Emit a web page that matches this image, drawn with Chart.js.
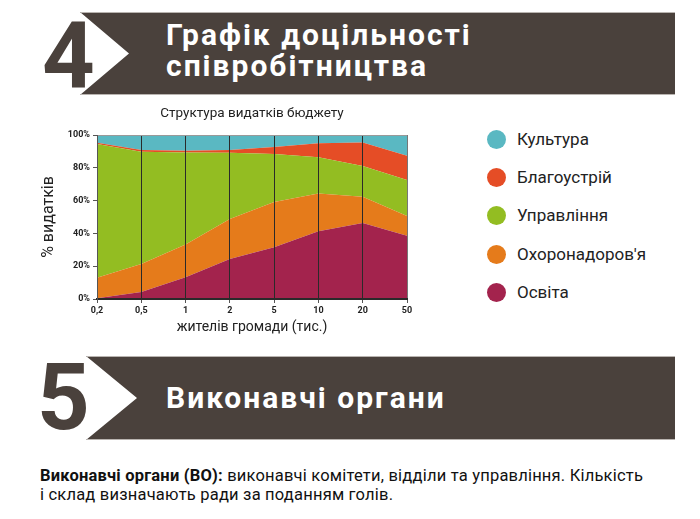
<!DOCTYPE html>
<html>
<head>
<meta charset="utf-8">
<script src="https://cdn.jsdelivr.net/npm/chart.js"></script>
<style>
  html, body { margin:0; padding:0; background:#fff; }
  body { width:700px; height:519px; position:relative; overflow:hidden; font-family: Roboto, "DejaVu Sans", sans-serif; }
  .band { position:absolute; background:#4a413c; border-top:1px solid #b9b4b0; border-bottom:1px solid #b9b4b0; box-sizing:border-box; }
  .num { position:absolute; color:#4a413c; font-weight:bold; font-size:92px; line-height:1; font-family: Roboto, sans-serif; }
  .btitle { position:absolute; color:#fff; font-weight:bold; font-size:30px; line-height:31px; letter-spacing:2px; }
  #chartWrap { position:absolute; left:0; top:100px; width:440px; height:240px; }
  #legend { position:absolute; left:486.5px; top:129.8px; margin:0; padding:0; list-style:none; }
  #legend li { position:absolute; left:0; height:19px; white-space:nowrap; }
  #legend .dot { position:absolute; left:0; top:0; width:19px; height:19px; border-radius:50%; }
  #legend .lab { position:absolute; left:30.5px; top:-2px; font-size:17px; line-height:23px; color:#222; }
  #body { position:absolute; left:40px; top:465.5px; font-size:16.5px; line-height:19.5px; letter-spacing:0.2px; color:#111; width:660px; white-space:nowrap; }
</style>
</head>
<body>
<div class="band" style="left:80px; top:12px; width:595px; height:83px; clip-path:polygon(0 0,100% 0,100% 100%,0 100%,49px 41.5px);"></div>
<div class="num" style="left:42px; top:10px;">4</div>
<div class="btitle" style="left:166px; top:19px;">Графік доцільності<br>співробітництва</div>

<div id="chartWrap"><canvas id="c" width="440" height="240"></canvas></div>
<ul id="legend"></ul>

<div class="band" style="left:86px; top:356px; width:589px; height:84px; clip-path:polygon(0 0,100% 0,100% 100%,0 100%,51px 42px);"></div>
<div class="num" style="left:37px; top:352px;">5</div>
<div class="btitle" style="left:166px; top:382px;">Виконавчі органи</div>

<div id="body"><b>Виконавчі органи (ВО):</b> виконавчі комітети, відділи та управління. Кількість<br>і склад визначають ради за поданням голів.</div>

<script>
// ---- data ----
const categories = ['0,2', '0,5', '1', '2', '5', '10', '20', '50'];
const osvita      = [0.5, 4.3, 13.2, 24.4, 31.5, 41.3, 46.3, 38.6];
const ohorona     = [12.5, 17.0, 20.1, 24.4, 27.6, 23.1, 16.1, 12.0];
const upravlinnia = [81.5, 68.5, 56.1, 40.4, 29.3, 22.0, 18.7, 22.0];
const blagoustrii = [0.8, 1.1, 1.0, 1.7, 4.3, 8.5, 14.4, 14.8];
const kultura     = [4.7, 9.1, 9.6, 9.1, 7.3, 5.1, 4.5, 12.6];
const yTicks = [0, 20, 40, 60, 80, 100];
const chartTitle = 'Структура видатків бюджету';

const series = [
  { name: 'Освіта', data: osvita, color: '#a3234d' },
  { name: "Охоронадоров'я", data: ohorona, color: '#e57b1b' },
  { name: 'Управління', data: upravlinnia, color: '#93bd22' },
  { name: 'Благоустрій', data: blagoustrii, color: '#e54d26' },
  { name: 'Культура', data: kultura, color: '#5ab8c2' }
];

// legend (top to bottom: reverse stacking order)
const legend = document.getElementById('legend');
series.slice().reverse().forEach((s, i) => {
  const li = document.createElement('li');
  li.style.top = (i * 38.3) + 'px';
  li.innerHTML = '<span class="dot" style="background:' + s.color + '"></span><span class="lab">' + s.name + '</span>';
  legend.appendChild(li);
});

const datasets = series.map((s, i) => ({
  label: s.name,
  data: s.data,
  backgroundColor: s.color,
  borderColor: s.color,
  borderWidth: 0,
  pointRadius: 0,
  tension: 0,
  fill: i === 0 ? 'origin' : '-1'
}));

// title centred over the plot area
const plotTitle = {
  id: 'plotTitle',
  afterDraw(chart) {
    const { ctx, chartArea } = chart;
    ctx.save();
    ctx.font = '13.5px Roboto';
    ctx.fillStyle = '#222';
    ctx.textAlign = 'center';
    ctx.textBaseline = 'middle';
    ctx.fillText(chartTitle, (chartArea.left + chartArea.right) / 2, 14);
    ctx.restore();
  }
};

new Chart(document.getElementById('c'), {
  type: 'line',
  data: { labels: categories, datasets },
  plugins: [plotTitle],
  options: {
    responsive: false,
    animation: false,
    devicePixelRatio: 1,
    layout: { padding: { left: 0, right: 33, top: 35, bottom: 0 } },
    plugins: {
      legend: { display: false },
      tooltip: { enabled: false },
      title: { display: false }
    },
    scales: {
      x: {
        offset: false,
        afterFit: s => { s.height = 41; },
        grid: {
          z: 1,
          color: ctx => ctx.index === categories.length - 1 ? '#777' : '#2a2a2a',
          lineWidth: 1,
          drawTicks: true,
          tickLength: 4,
          tickColor: '#555'
        },
        border: { color: '#2a2a2a', width: 2, z: 2 },
        ticks: { color: '#222', font: { family: 'Roboto', size: 9, weight: 'bold' }, padding: 2.6, maxRotation: 0, autoSkip: false },
        title: {
          display: true,
          text: 'жителів громади (тис.)',
          color: '#222',
          font: { family: 'Roboto', size: 14 },
          padding: { top: 0, bottom: 4.6 }
        }
      },
      y: {
        stacked: true,
        min: 0, max: 100,
        afterFit: s => { s.width = 97; },
        afterBuildTicks: s => { s.ticks = yTicks.map(v => ({ value: v })); },
        grid: {
          z: 1,
          color: ctx => ctx.tick && ctx.tick.value === 100 ? '#999' : 'rgba(0,0,0,0)',
          drawTicks: true,
          tickLength: 4,
          tickColor: '#555'
        },
        border: { color: '#555', width: 1, z: 2 },
        ticks: {
          color: '#222',
          font: { family: 'Roboto', size: 9, weight: 'bold' },
          padding: 3,
          callback: v => v + '%'
        },
        title: {
          display: true,
          text: '% видатків',
          color: '#222',
          font: { family: 'Roboto', size: 16 },
          padding: { top: 39.5, bottom: 0 }
        }
      }
    }
  }
});
</script>
</body>
</html>
